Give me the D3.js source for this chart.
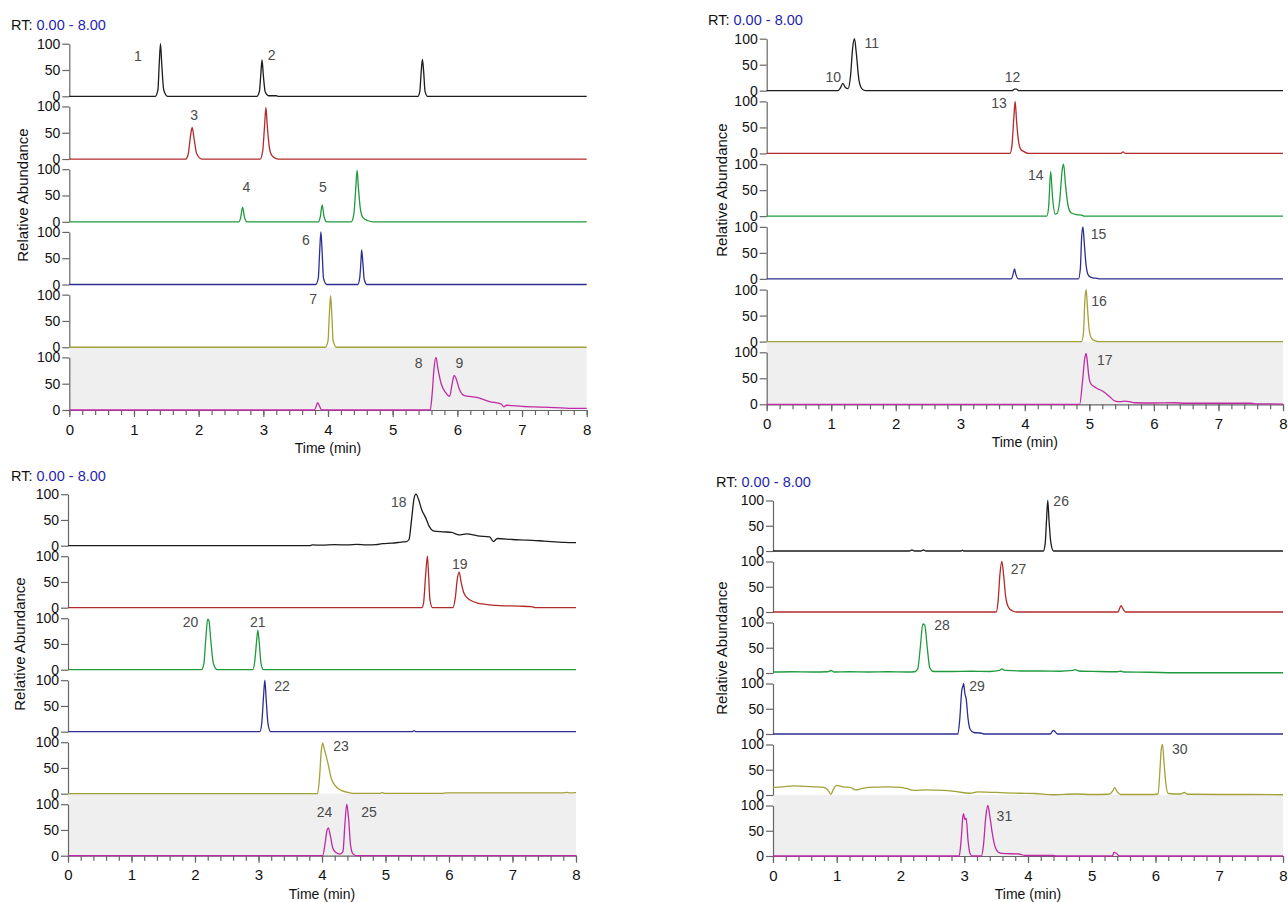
<!DOCTYPE html>
<html>
<head>
<meta charset="utf-8">
<script src="https://cdnjs.cloudflare.com/ajax/libs/d3/7.8.5/d3.min.js"></script>
<style>
body { margin: 0; background: #fff; }
svg { font-family: Arial, "Liberation Sans", sans-serif; }
</style>
</head>
<body>
<div id="chart"></div>
<script>
// time axis and abundance ticks
const timeDomain = [0, 8];
const abundanceTicks = [0, 50, 100];
const majorTimeTicks = [0, 1, 2, 3, 4, 5, 6, 7, 8];
const minorTimeTicks = d3.range(0, 41).map(i => i / 5);
const rtLabel = "0.00 - 8.00";

// trace colours, top to bottom
const traceColors = ["#1c1c1c", "#b32a2a", "#1f9a3c", "#2e2e92", "#a3a13a", "#c02aa6"];

// [time, relative abundance] points
const panel1Traces = [
  [[0,0],[1.33,0],[1.37,12],[1.39,60],[1.41,100],[1.43,60],[1.46,12],[1.52,0],
   [2.90,0],[2.94,10],[2.96,40],[2.98,69],[3.00,40],[3.03,8],[3.08,1],[3.20,1],[3.24,0],
   [5.39,0],[5.42,10],[5.44,45],[5.46,70],[5.48,45],[5.50,10],[5.54,0],[8,0]],
  [[0,0],[1.80,0],[1.84,10],[1.87,40],[1.90,60],[1.93,38],[1.97,10],[2.05,0],
   [2.95,0],[2.99,15],[3.02,65],[3.04,98],[3.06,65],[3.09,25],[3.13,7],[3.20,1],[3.26,0],[8,0]],
  [[0,0],[2.62,0],[2.65,8],[2.68,28],[2.71,8],[2.75,0],
   [3.85,0],[3.88,9],[3.91,32],[3.94,9],[3.98,0],
   [4.36,0],[4.40,15],[4.43,65],[4.45,98],[4.47,65],[4.50,25],[4.54,8],[4.62,2],[4.70,0],[8,0]],
  [[0,0],[3.81,0],[3.85,12],[3.87,60],[3.89,100],[3.91,60],[3.93,12],[3.98,0],
   [4.46,0],[4.49,12],[4.51,45],[4.52,66],[4.54,40],[4.56,10],[4.60,0],[8,0]],
  [[0,0],[3.96,0],[4.00,12],[4.02,60],[4.04,98],[4.06,60],[4.08,12],[4.13,0],[8,0]],
  [[0,0],[3.79,0],[3.82,8],[3.84,14],[3.87,7],[3.90,0],
   [5.58,0],[5.61,30],[5.64,80],[5.67,100],[5.70,78],[5.75,50],[5.82,33],[5.88,26],[5.92,50],
   [5.95,66],[5.98,60],[6.03,40],[6.10,28],[6.30,24],[6.50,16],[6.68,11],[6.72,6],[6.76,9],
   [7.0,7],[7.3,5.5],[7.6,4],[7.85,3],[8,3]]
];
const panel2Traces = [
  [[0,0],[1.10,0],[1.14,5],[1.18,14],[1.22,6],[1.26,4],[1.30,30],[1.33,80],[1.36,100],[1.39,70],
   [1.43,20],[1.48,3],[1.53,0],[3.80,0],[3.84,3],[3.87,3],[3.91,0],[8,0]],
  [[0,0],[3.77,0],[3.80,15],[3.83,70],[3.85,100],[3.87,65],[3.90,25],[3.94,7],[3.98,4],[4.02,1],[4.06,0],
   [5.49,0],[5.52,3],[5.56,0],[8,0]],
  [[0,0],[4.34,0],[4.37,20],[4.40,86],[4.43,35],[4.47,4],[4.50,5],[4.54,30],[4.58,90],[4.60,100],
   [4.63,60],[4.67,20],[4.72,6],[4.80,3],[4.88,2],[4.92,0],[8,0]],
  [[0,0],[3.79,0],[3.82,10],[3.84,19],[3.86,9],[3.90,0],
   [4.83,0],[4.86,20],[4.88,80],[4.90,100],[4.92,70],[4.95,25],[4.99,6],[5.05,2],[5.12,1],[5.16,0],[8,0]],
  [[0,0],[4.88,0],[4.91,20],[4.93,80],[4.95,100],[4.97,65],[5.00,20],[5.04,5],[5.10,1],[5.15,0],[8,0]],
  [[0,0],[4.85,0],[4.89,40],[4.93,90],[4.95,98],[4.97,80],[4.99,55],[5.02,40],[5.10,32],[5.22,24],
   [5.32,14],[5.40,6],[5.48,5],[5.55,6],[5.62,5],[5.70,3],[6.0,2.5],[6.3,3],[6.5,2],[7.0,2],[7.5,2],[7.6,1],[8,0.5]]
];
const panel3Traces = [
  [[0,0],[3.8,0],[3.85,1.5],[4.0,1],[4.2,2],[4.4,1.5],[4.55,2.5],[4.7,1.5],[4.85,2],[4.95,4],[5.1,5],
   [5.25,7],[5.33,8],[5.37,12],[5.41,50],[5.45,92],[5.48,100],[5.52,90],[5.57,70],[5.63,55],[5.69,37],
   [5.75,29],[5.9,27],[6.04,26],[6.16,21],[6.28,23],[6.45,19],[6.64,17],[6.70,8],[6.76,14],[7.0,12],
   [7.23,11],[7.5,9],[7.82,6.5],[8,6]],
  [[0,0],[5.57,0],[5.60,10],[5.63,60],[5.66,100],[5.68,60],[5.70,15],[5.74,0],
   [6.06,0],[6.10,20],[6.13,55],[6.16,69],[6.19,50],[6.23,30],[6.28,20],[6.36,13],[6.45,9],[6.55,7],
   [6.8,4],[7.1,3],[7.3,2],[7.36,0],[8,0]],
  [[0,0],[2.10,0],[2.14,12],[2.17,60],[2.20,98],[2.22,95],[2.25,55],[2.29,12],[2.35,0],
   [2.91,0],[2.94,15],[2.97,55],[2.99,77],[3.01,55],[3.04,12],[3.08,0],[8,0]],
  [[0,0],[3.02,0],[3.05,15],[3.08,70],[3.10,100],[3.12,65],[3.15,15],[3.19,0],
   [5.42,0],[5.45,2],[5.48,0],[8,0]],
  [[0,0],[3.93,0],[3.96,30],[3.99,85],[4.01,98],[4.04,85],[4.09,61],[4.15,28],[4.22,14],[4.27,8.5],
   [4.39,3],[4.5,0.5],[4.9,0.5],[4.95,2],[5.0,0.5],[5.9,0.5],[5.95,1.5],[7.8,1.5],[7.85,2.5],[7.9,1.5],[8,2]],
  [[0,0],[4.01,0],[4.05,25],[4.08,50],[4.10,54],[4.13,40],[4.17,15],[4.22,6],[4.28,3],[4.33,8],
   [4.36,60],[4.39,100],[4.42,70],[4.45,20],[4.49,3],[4.54,0],[8,0]]
];
const panel4Traces = [
  [[0,0],[2.14,0],[2.18,2],[2.22,0],[2.32,0],[2.36,2],[2.40,0],[2.95,0],[2.97,1.5],[2.99,0],
   [4.24,0],[4.27,15],[4.29,60],[4.31,100],[4.33,60],[4.36,15],[4.40,0],[8,0]],
  [[0,0],[3.50,0],[3.53,20],[3.56,75],[3.59,100],[3.62,70],[3.65,30],[3.70,8],[3.76,2],[3.82,0],
   [5.41,0],[5.44,8],[5.46,12.6],[5.49,6],[5.53,0],[8,0]],
  [[0,2],[0.3,2.5],[0.6,2],[0.86,2.5],[0.91,5],[0.96,2],[1.2,2.5],[1.5,2],[1.8,2.5],[2.1,2],[2.22,2.5],
   [2.27,8],[2.31,50],[2.35,97],[2.38,95],[2.42,50],[2.46,10],[2.52,3],[2.8,3],[3.1,3.5],[3.4,3],
   [3.55,5],[3.59,8],[3.64,5],[3.9,4],[4.2,4],[4.5,3.5],[4.7,5],[4.74,6.5],[4.8,4],[5.1,3],[5.4,2.5],
   [5.46,3.5],[5.5,2],[5.9,1.5],[6.3,0.5],[7.0,0.5],[8,0.5]],
  [[0,0],[2.90,0],[2.93,30],[2.96,85],[2.98,95],[2.99,100],[3.01,80],[3.03,70],[3.06,30],[3.09,10],
   [3.15,3],[3.25,2],[3.31,0],[4.35,0],[4.38,5],[4.40,7],[4.43,4],[4.46,0],[8,0]],
  [[0,15],[0.15,16],[0.32,18],[0.5,17],[0.8,15],[0.86,10],[0.91,1.5],[0.95,12],[1.0,19],[1.1,16],
   [1.21,15],[1.3,10],[1.4,13],[1.5,15],[1.8,16],[2.0,15],[2.09,13],[2.21,9],[2.4,10],[2.68,9],
   [2.85,7],[3.09,3.5],[3.21,6],[3.5,5],[3.86,3.5],[4.1,3],[4.39,0.5],[4.74,2],[5.0,1],[5.27,1.5],
   [5.33,8],[5.36,14.7],[5.40,6],[5.45,1],[5.92,1],[6.04,2],[6.07,50],[6.09,90],[6.11,100],[6.13,70],
   [6.16,25],[6.20,3],[6.40,2],[6.45,5],[6.50,1.5],[7.0,1],[7.5,1],[8,0.5]],
  [[0,0],[2.92,0],[2.95,30],[2.98,80],[2.99,84],[3.01,72],[3.03,75],[3.06,30],[3.09,5],[3.13,0],
   [3.27,0],[3.30,20],[3.34,80],[3.37,100],[3.40,80],[3.44,45],[3.48,20],[3.53,8],[3.60,5],[3.86,4],
   [3.95,1],[4.39,1],[4.45,0],[5.32,0],[5.35,7],[5.38,6],[5.42,1],[5.46,0],[8,0]]
];

// peak labels: [trace, time, abundance, text]
const panel1Labels = [[0,1.06,77,"1"],[0,3.13,78,"2"],[1,1.93,84,"3"],[2,2.74,65,"4"],[2,3.92,65,"5"],
  [3,3.66,84,"6"],[4,3.77,91,"7"],[5,5.40,89,"8"],[5,6.03,89,"9"]];
const panel2Labels = [[0,1.03,27,"10"],[0,1.63,91,"11"],[0,3.81,27,"12"],[1,3.60,96,"13"],
  [2,4.17,79,"14"],[3,5.14,86,"15"],[4,5.15,78,"16"],[5,5.24,85,"17"]];
const panel3Labels = [[0,5.21,84,"18"],[1,6.17,84,"19"],[2,1.93,93,"20"],[2,2.99,93,"21"],
  [3,3.37,89,"22"],[4,4.30,93,"23"],[5,4.04,84,"24"],[5,4.74,84,"25"]];
const panel4Labels = [[0,4.52,98,"26"],[1,3.85,85,"27"],[2,2.65,94,"28"],[3,3.20,95,"29"],
  [4,6.38,90,"30"],[5,3.63,79,"31"]];

// layout of the four panels
const panels = [
  {traces: panel1Traces, labels: panel1Labels, x0: 69.3, x1: 586.7, base0: 96.3, gap: 62.74, h: 52.6,
   rtX: 11, rtY: 25, raX: 23, raY: 195},
  {traces: panel2Traces, labels: panel2Labels, x0: 766.7, x1: 1283, base0: 90.7, gap: 62.72, h: 52,
   rtX: 708, rtY: 20, raX: 721.5, raY: 190},
  {traces: panel3Traces, labels: panel3Labels, x0: 68, x1: 576, base0: 545.7, gap: 62, h: 51.5,
   rtX: 11, rtY: 476, raX: 20, raY: 644},
  {traces: panel4Traces, labels: panel4Labels, x0: 773, x1: 1283, base0: 551, gap: 61, h: 50.5,
   rtX: 716, rtY: 482, raX: 721.5, raY: 648}
];

const svg = d3.select("#chart").append("svg")
  .attr("width", 1288)
  .attr("height", 902);

const axisColor = "#666";

panels.forEach(p => {
  const g = svg.append("g");
  const x = d3.scaleLinear().domain(timeDomain).range([p.x0, p.x1]);
  const ys = p.traces.map((t, i) => {
    const base = p.base0 + i * p.gap;
    return d3.scaleLinear().domain([0, 100]).range([base, base - p.h]);
  });
  const last = ys.length - 1;

  // grey band behind the bottom trace
  g.append("rect")
    .attr("x", p.x0)
    .attr("y", ys[last - 1](0))
    .attr("width", p.x1 - p.x0)
    .attr("height", ys[last](0) - ys[last - 1](0))
    .attr("fill", "#efefef");

  // RT header
  const rt = g.append("text")
    .attr("x", p.rtX)
    .attr("y", p.rtY)
    .attr("dy", "0.35em")
    .style("font-size", "14.5px");
  rt.append("tspan").attr("fill", "#111").text("RT: ");
  rt.append("tspan").attr("fill", "#1f1fb0").text(rtLabel);

  // y axis for each trace
  ys.forEach(y => {
    const ax = g.append("g")
      .attr("transform", `translate(${p.x0},0)`)
      .call(d3.axisLeft(y).tickValues(abundanceTicks).tickSize(7).tickSizeOuter(0).tickPadding(2));
    ax.select(".domain").attr("stroke", axisColor).attr("stroke-width", 1.2);
    ax.selectAll(".tick line").attr("stroke", axisColor).attr("stroke-width", 1.2);
    ax.selectAll("text").style("font-size", "14px").attr("fill", "#111");
  });

  // time axis under the last trace
  const minor = g.append("g")
    .attr("transform", `translate(0,${ys[last](0)})`)
    .call(d3.axisBottom(x).tickValues(minorTimeTicks).tickSize(5).tickSizeOuter(0).tickFormat(""));
  minor.select(".domain").attr("stroke", axisColor).attr("stroke-width", 1.2);
  minor.selectAll(".tick line").attr("stroke", axisColor).attr("stroke-width", 1.2);

  const major = g.append("g")
    .attr("transform", `translate(0,${ys[last](0)})`)
    .call(d3.axisBottom(x).tickValues(majorTimeTicks).tickSize(7).tickSizeOuter(0).tickFormat(d3.format("d")));
  major.select(".domain").remove();
  major.selectAll(".tick line").attr("stroke", axisColor).attr("stroke-width", 1.2);
  major.selectAll("text")
    .attr("y", 19.5)
    .attr("dy", "0.35em")
    .style("font-size", "15px")
    .attr("fill", "#111");

  g.append("text")
    .attr("x", (p.x0 + p.x1) / 2)
    .attr("y", ys[last](0) + 38)
    .attr("dy", "0.35em")
    .attr("text-anchor", "middle")
    .style("font-size", "14px")
    .attr("fill", "#111")
    .text("Time (min)");

  g.append("text")
    .attr("transform", `translate(${p.raX},${p.raY}) rotate(-90)`)
    .attr("dy", "0.35em")
    .attr("text-anchor", "middle")
    .style("font-size", "15px")
    .attr("fill", "#111")
    .text("Relative Abundance");

  // traces
  p.traces.forEach((pts, i) => {
    const line = d3.line()
      .x(d => x(d[0]))
      .y(d => ys[i](d[1]))
      .curve(d3.curveMonotoneX);
    g.append("path")
      .datum(pts)
      .attr("d", line)
      .attr("fill", "none")
      .attr("stroke", traceColors[i])
      .attr("stroke-width", 1.3)
      .attr("stroke-linejoin", "round");
  });

  // peak numbers
  g.selectAll("text.peak")
    .data(p.labels)
    .enter()
    .append("text")
    .attr("class", "peak")
    .attr("x", d => x(d[1]))
    .attr("y", d => ys[d[0]](d[2]))
    .attr("dy", "0.35em")
    .attr("text-anchor", "middle")
    .style("font-size", "14px")
    .attr("fill", "#4a4a4a")
    .text(d => d[3]);
});
</script>
</body>
</html>
